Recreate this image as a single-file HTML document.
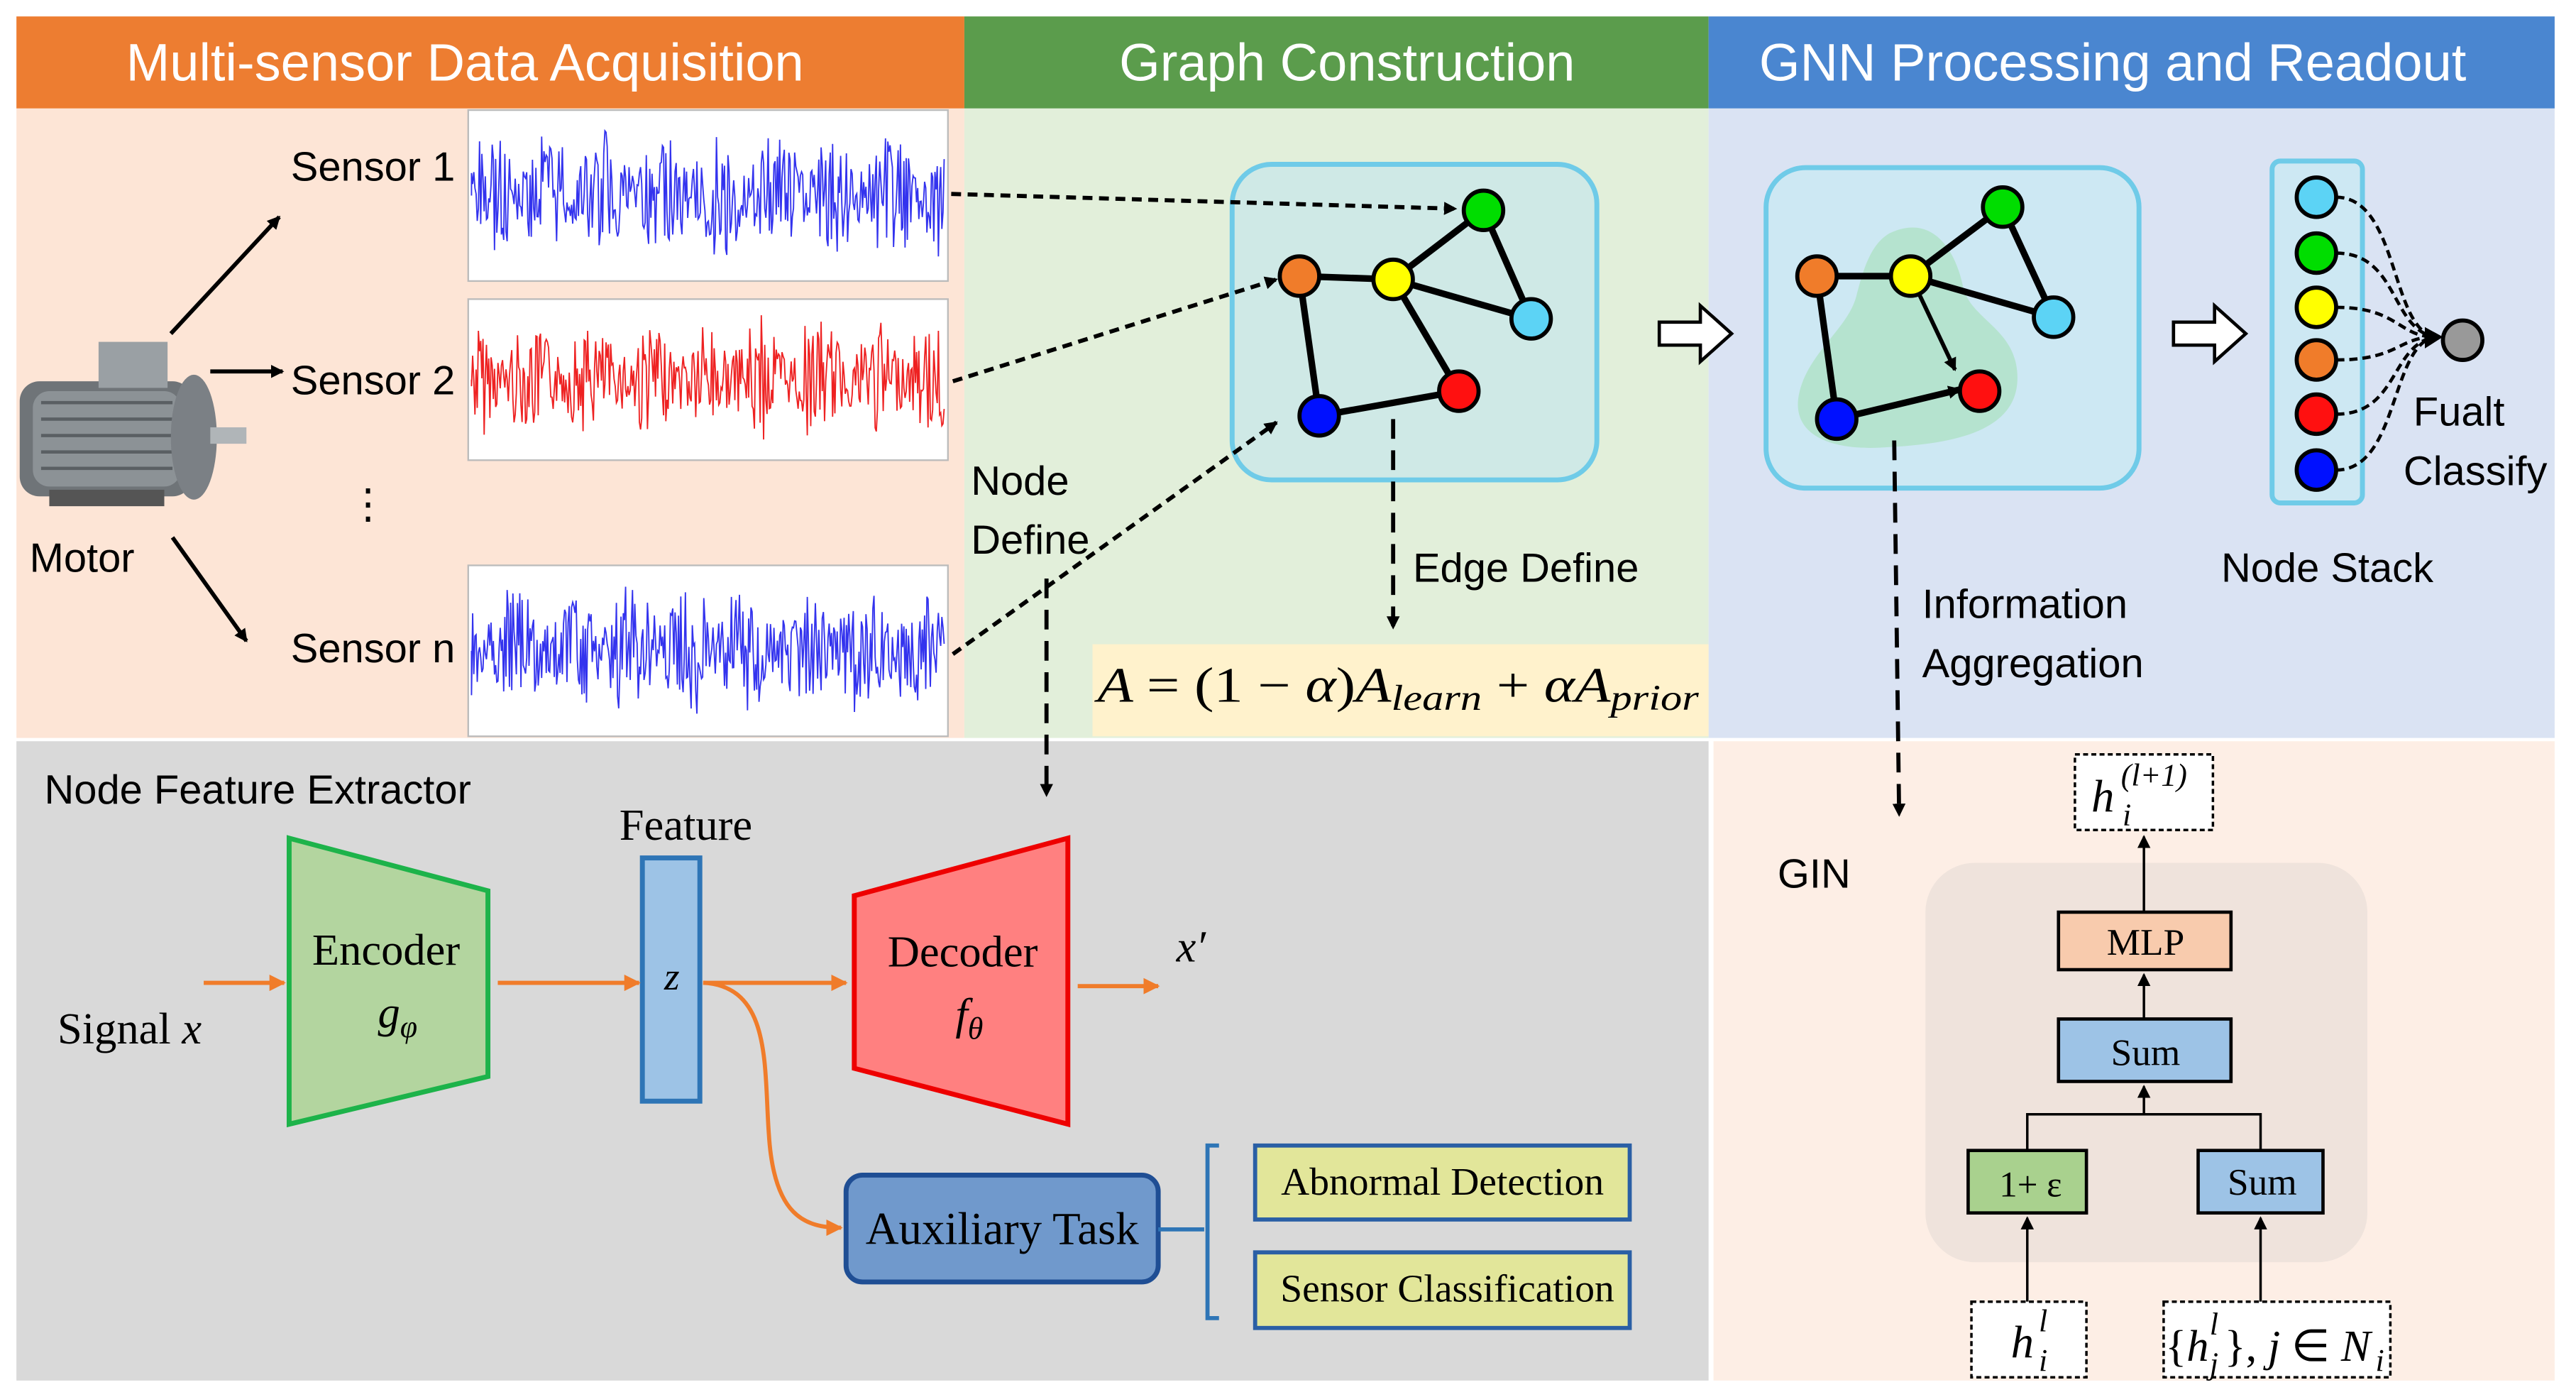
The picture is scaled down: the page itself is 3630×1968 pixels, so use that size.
<!DOCTYPE html>
<html><head><meta charset="utf-8"><style>
html,body{margin:0;padding:0;background:#fff}
svg{display:block}
text{font-family:"Liberation Sans","DejaVu Sans",sans-serif}
.s{font-family:"Liberation Serif",serif}
</style></head><body>
<svg width="3630" height="1968" viewBox="0 0 1568 850" preserveAspectRatio="none" xmlns="http://www.w3.org/2000/svg">
<defs>
<marker id="ak" markerWidth="8" markerHeight="8" refX="7" refY="4" orient="auto" markerUnits="userSpaceOnUse"><path d="M0,0 L8,4 L0,8 z" fill="#000"/></marker>
<marker id="ao" markerWidth="10" markerHeight="10" refX="9" refY="5" orient="auto" markerUnits="userSpaceOnUse"><path d="M0,0 L10,5 L0,10 z" fill="#f07c2a"/></marker>
</defs>
<rect width="1568" height="850" fill="#fff"/>
<rect x="10" y="10" width="577" height="56" fill="#ed7d31"/>
<rect x="587" y="10" width="453" height="56" fill="#5b9c4c"/>
<rect x="1040" y="10" width="515" height="56" fill="#4a86d0"/>
<text x="283" y="49" font-size="32" fill="#fff" text-anchor="middle">Multi-sensor Data Acquisition</text>
<text x="820" y="49" font-size="32" fill="#fff" text-anchor="middle">Graph Construction</text>
<text x="1286" y="49" font-size="32" fill="#fff" text-anchor="middle">GNN Processing and Readout</text>
<rect x="10" y="66" width="577" height="383" fill="#fde5d6"/>
<rect x="587" y="66" width="453" height="383" fill="#e2efda"/>
<rect x="1040" y="66" width="515" height="383" fill="#dae3f3"/>
<rect x="10" y="451" width="1030" height="389" fill="#d9d9d9"/>
<rect x="1043" y="451" width="512" height="389" fill="#fdeee5"/>
<rect x="285" y="67" width="292" height="104" fill="#fff" stroke="#bbb"/>
<rect x="285" y="182" width="292" height="98" fill="#fff" stroke="#bbb"/>
<rect x="285" y="344" width="292" height="104" fill="#fff" stroke="#bbb"/>
<path id="w1" d="" stroke="#3333ee" stroke-width="0.8" fill="none"/>
<path id="w2" d="" stroke="#ee2222" stroke-width="0.8" fill="none"/>
<path id="w3" d="" stroke="#3333ee" stroke-width="0.8" fill="none"/>
<text x="177" y="110" font-size="25">Sensor 1</text>
<text x="177" y="240" font-size="25">Sensor 2</text>
<text x="177" y="403" font-size="25">Sensor n</text>
<text x="18" y="348" font-size="25">Motor</text>
<text x="224" y="315" font-size="25" text-anchor="middle">⋮</text>
<line x1="104" y1="203" x2="170" y2="132" stroke="#000" stroke-width="2.5" marker-end="url(#ak)"/>
<line x1="128" y1="226" x2="172" y2="226" stroke="#000" stroke-width="2.5" marker-end="url(#ak)"/>
<line x1="105" y1="327" x2="150" y2="390" stroke="#000" stroke-width="2.5" marker-end="url(#ak)"/>
<g>
<rect x="12" y="232" width="105" height="70" rx="12" fill="#6f7478"/>
<rect x="20" y="238" width="90" height="58" rx="10" fill="#8c9296"/>
<g stroke="#5a5f63" stroke-width="2"><line x1="25" y1="245" x2="105" y2="245"/><line x1="25" y1="255" x2="105" y2="255"/><line x1="25" y1="265" x2="105" y2="265"/><line x1="25" y1="275" x2="105" y2="275"/><line x1="25" y1="285" x2="105" y2="285"/></g>
<rect x="60" y="208" width="42" height="28" fill="#9aa0a4"/>
<ellipse cx="118" cy="266" rx="14" ry="38" fill="#7b8085"/>
<rect x="128" y="260" width="22" height="10" fill="#b0b5b8"/>
<rect x="30" y="298" width="70" height="10" fill="#555"/>
</g>
<rect x="750" y="100" width="222" height="192" rx="24" fill="#cfe9e6" stroke="#6fcbe8" stroke-width="3"/>
<g stroke="#000" stroke-width="4">
<line x1="791" y1="168" x2="848" y2="170"/><line x1="848" y1="170" x2="903" y2="128"/><line x1="903" y1="128" x2="932" y2="194"/><line x1="848" y1="170" x2="932" y2="194"/><line x1="848" y1="170" x2="888" y2="238"/><line x1="791" y1="168" x2="803" y2="253"/><line x1="803" y1="253" x2="888" y2="238"/>
</g>
<g stroke="#000" stroke-width="2.5">
<circle cx="903" cy="128" r="12" fill="#00dd00"/><circle cx="791" cy="168" r="12" fill="#f07c2a"/><circle cx="848" cy="170" r="12" fill="#ffff00"/><circle cx="932" cy="194" r="12" fill="#5cd3f5"/><circle cx="803" cy="253" r="12" fill="#0010ff"/><circle cx="888" cy="238" r="12" fill="#ff1010"/>
</g>
<g stroke="#000" stroke-width="2.5" stroke-dasharray="6,4" fill="none">
<line x1="579" y1="118" x2="886" y2="127" marker-end="url(#ak)"/>
<line x1="580" y1="232" x2="777" y2="170" marker-end="url(#ak)"/>
<line x1="580" y1="398" x2="777" y2="257" marker-end="url(#ak)"/>
</g>
<line x1="848" y1="255" x2="848" y2="382" stroke="#000" stroke-width="2.5" stroke-dasharray="12,7" marker-end="url(#ak)"/>
<line x1="637" y1="352" x2="637" y2="484" stroke="#000" stroke-width="2.5" stroke-dasharray="12,7" marker-end="url(#ak)"/>
<text x="591" y="301" font-size="25">Node</text>
<text x="591" y="337" font-size="25">Define</text>
<text x="860" y="354" font-size="25">Edge Define</text>
<rect x="665" y="392" width="375" height="56" fill="#fff2cc"/>
<text x="668" y="427" font-size="30" class="s" font-style="italic" textLength="366" lengthAdjust="spacingAndGlyphs">A <tspan font-style="normal">= (1 − </tspan>α<tspan font-style="normal">)</tspan>A<tspan font-size="22" dy="5">learn</tspan><tspan dy="-5" font-style="normal"> + </tspan>αA<tspan font-size="22" dy="5">prior</tspan></text>
<path d="M1010,196 L1035,196 L1035,186 L1054,203 L1035,220 L1035,210 L1010,210 z" fill="#fff" stroke="#000" stroke-width="2"/>
<path d="M1323,196 L1348,196 L1348,186 L1367,203 L1348,220 L1348,210 L1323,210 z" fill="#fff" stroke="#000" stroke-width="2"/>
<rect x="1075" y="102" width="227" height="195" rx="24" fill="#cde8f3" stroke="#6fcbe8" stroke-width="3"/>
<path d="M1150,142 C1175,130 1190,150 1195,175 C1200,195 1228,200 1228,230 C1228,262 1190,270 1150,272 C1115,275 1090,265 1095,240 C1100,215 1125,200 1130,180 C1135,160 1140,148 1150,142 z" fill="#b5e3cf"/>
<g stroke="#000" stroke-width="4">
<line x1="1106" y1="168" x2="1163" y2="168"/><line x1="1163" y1="168" x2="1219" y2="126"/><line x1="1219" y1="126" x2="1250" y2="193"/><line x1="1163" y1="168" x2="1250" y2="193"/><line x1="1106" y1="168" x2="1118" y2="255"/>
</g>
<line x1="1163" y1="168" x2="1190" y2="225" stroke="#000" stroke-width="2.5" marker-end="url(#ak)"/>
<line x1="1118" y1="255" x2="1193" y2="237" stroke="#000" stroke-width="4" marker-end="url(#ak)"/>
<g stroke="#000" stroke-width="2.5">
<circle cx="1219" cy="126" r="12" fill="#00dd00"/><circle cx="1106" cy="168" r="12" fill="#f07c2a"/><circle cx="1163" cy="168" r="12" fill="#ffff00"/><circle cx="1250" cy="193" r="12" fill="#5cd3f5"/><circle cx="1118" cy="255" r="12" fill="#0010ff"/><circle cx="1205" cy="238" r="12" fill="#ff1010"/>
</g>
<line x1="1153" y1="268" x2="1156" y2="496" stroke="#000" stroke-width="2.5" stroke-dasharray="12,7" marker-end="url(#ak)"/>
<text x="1170" y="376" font-size="25">Information</text>
<text x="1170" y="412" font-size="25">Aggregation</text>
<rect x="1383" y="98" width="55" height="208" rx="5" fill="#cde8f3" stroke="#6fcbe8" stroke-width="3"/>
<g stroke="#000" stroke-width="2" stroke-dasharray="5,3" fill="none">
<path d="M1422,120 C1460,120 1455,200 1482,205"/><path d="M1422,154 C1460,154 1455,200 1482,205"/><path d="M1422,187 C1460,187 1460,205 1482,205"/><path d="M1422,219 C1460,219 1460,205 1482,205"/><path d="M1422,252 C1460,252 1455,210 1482,205"/><path d="M1422,286 C1460,286 1455,210 1482,205"/>
</g>
<path d="M1476,199 L1487,205 L1476,212 z" fill="#000"/>
<g stroke="#000" stroke-width="2.5">
<circle cx="1410" cy="120" r="12" fill="#5cd3f5"/><circle cx="1410" cy="154" r="12" fill="#00dd00"/><circle cx="1410" cy="187" r="12" fill="#ffff00"/><circle cx="1410" cy="219" r="12" fill="#f07c2a"/><circle cx="1410" cy="252" r="12" fill="#ff1010"/><circle cx="1410" cy="286" r="12" fill="#0010ff"/>
<circle cx="1499" cy="207" r="12" fill="#999"/>
</g>
<text x="1469" y="259" font-size="25">Fualt</text>
<text x="1463" y="295" font-size="25">Classify</text>
<text x="1352" y="354" font-size="25">Node Stack</text>
<text x="27" y="489" font-size="25">Node Feature Extractor</text>
<text x="377" y="511" font-size="27" class="s">Feature</text>
<text x="35" y="635" font-size="27" class="s">Signal <tspan font-style="italic">x</tspan></text>
<polygon points="176,510 297,542 297,655 176,684" fill="#b3d59f" stroke="#1db34a" stroke-width="3"/>
<text x="235" y="587" font-size="27" class="s" text-anchor="middle">Encoder</text>
<text x="242" y="625" font-size="27" class="s" text-anchor="middle" font-style="italic">g<tspan font-size="19" dy="6">φ</tspan></text>
<rect x="391" y="522" width="35" height="148" fill="#9dc3e6" stroke="#2e75b6" stroke-width="3"/>
<text x="409" y="602" font-size="24" class="s" text-anchor="middle" font-style="italic">z</text>
<polygon points="520,545 650,510 650,684 520,650" fill="#ff8080" stroke="#e00" stroke-width="3"/>
<text x="586" y="588" font-size="27" class="s" text-anchor="middle">Decoder</text>
<text x="590" y="626" font-size="27" class="s" text-anchor="middle" font-style="italic">f<tspan font-size="19" dy="6">θ</tspan></text>
<text x="716" y="585" font-size="27" class="s" font-style="italic">x′</text>
<g stroke="#f07c2a" stroke-width="2.5" fill="none">
<line x1="124" y1="598" x2="173" y2="598" marker-end="url(#ao)"/>
<line x1="303" y1="598" x2="389" y2="598" marker-end="url(#ao)"/>
<line x1="428" y1="598" x2="515" y2="598" marker-end="url(#ao)"/>
<line x1="656" y1="600" x2="705" y2="600" marker-end="url(#ao)"/>
<path d="M428,598 C470,600 465,650 468,690 C471,740 490,747 512,747" marker-end="url(#ao)"/>
</g>
<rect x="515" y="715" width="190" height="65" rx="10" fill="#7099cc" stroke="#1f4e94" stroke-width="3"/>
<text x="610" y="757" font-size="28" class="s" text-anchor="middle">Auxiliary Task</text>
<path d="M705,748 L733,748 M742,697 L735,697 L735,802 L742,802" stroke="#2e75b6" stroke-width="2.5" fill="none"/>
<rect x="764" y="697" width="228" height="45" fill="#e2e69a" stroke="#2a5fa5" stroke-width="2.5"/>
<rect x="764" y="762" width="228" height="46" fill="#e2e69a" stroke="#2a5fa5" stroke-width="2.5"/>
<text x="878" y="727" font-size="24" class="s" text-anchor="middle">Abnormal Detection</text>
<text x="881" y="792" font-size="24" class="s" text-anchor="middle">Sensor Classification</text>
<text x="1082" y="540" font-size="25">GIN</text>
<rect x="1172" y="525" width="269" height="243" rx="30" fill="#efe3dc"/>
<rect x="1263" y="459" width="84" height="46" fill="#fff" stroke="#000" stroke-width="1.5" stroke-dasharray="3,2"/>
<text x="1273" y="494" font-size="28" class="s" font-style="italic">h</text>
<text x="1291" y="478" font-size="19" class="s" font-style="italic">(l+1)</text>
<text x="1292" y="502" font-size="19" class="s" font-style="italic">i</text>
<rect x="1253" y="555" width="105" height="35" fill="#f8cbad" stroke="#000" stroke-width="2"/>
<text x="1306" y="581" font-size="23" class="s" text-anchor="middle">MLP</text>
<rect x="1253" y="620" width="105" height="38" fill="#9dc3e6" stroke="#000" stroke-width="2"/>
<text x="1306" y="648" font-size="23" class="s" text-anchor="middle">Sum</text>
<rect x="1198" y="700" width="72" height="38" fill="#a9d18e" stroke="#000" stroke-width="2"/>
<text x="1236" y="728" font-size="22" class="s" text-anchor="middle">1+ ε</text>
<rect x="1338" y="700" width="76" height="38" fill="#9dc3e6" stroke="#000" stroke-width="2"/>
<text x="1377" y="727" font-size="23" class="s" text-anchor="middle">Sum</text>
<g stroke="#000" stroke-width="1.5" fill="none">
<line x1="1305" y1="555" x2="1305" y2="509" marker-end="url(#ak)"/>
<line x1="1305" y1="620" x2="1305" y2="593" marker-end="url(#ak)"/>
<line x1="1305" y1="678" x2="1305" y2="661" marker-end="url(#ak)"/>
<path d="M1234,700 L1234,678 L1376,678 L1376,700"/>
<line x1="1234" y1="792" x2="1234" y2="741" marker-end="url(#ak)"/>
<line x1="1376" y1="792" x2="1376" y2="741" marker-end="url(#ak)"/>
</g>
<rect x="1200" y="792" width="70" height="46" fill="#fff" stroke="#000" stroke-width="1.5" stroke-dasharray="3,2"/>
<text x="1224" y="826" font-size="28" class="s" font-style="italic">h</text>
<text x="1241" y="810" font-size="19" class="s" font-style="italic">l</text>
<text x="1241" y="834" font-size="19" class="s" font-style="italic">i</text>
<rect x="1317" y="792" width="138" height="46" fill="#fff" stroke="#000" stroke-width="1.5" stroke-dasharray="3,2"/>
<text x="1318" y="828" font-size="27" class="s">{<tspan font-style="italic">h</tspan></text>
<text x="1345" y="812" font-size="19" class="s" font-style="italic">l</text>
<text x="1345" y="836" font-size="19" class="s" font-style="italic">j</text>
<text x="1354" y="828" font-size="27" class="s">}, <tspan font-style="italic">j</tspan> ∈ <tspan font-style="italic">N</tspan></text>
<text x="1446" y="834" font-size="19" class="s" font-style="italic">i</text>
</svg>
<script>
function gen(id,x0,x1,yc,amp,seed){var s=seed;function r(){s=(s*9301+49297)%233280;return s/233280;}
var d="M"+x0+","+yc;for(var x=x0;x<=x1;x+=0.7){var env=0.35+0.65*Math.abs(Math.sin(x*0.09+seed))*(0.5+0.5*r());var y=yc+(r()*2-1)*amp*env;d+=" L"+x.toFixed(1)+","+y.toFixed(1);}
document.getElementById(id).setAttribute("d",d);}
gen("w1",287,575,119,42,3);gen("w2",287,575,231,40,7);gen("w3",287,575,396,44,11);
</script>
</body></html>
